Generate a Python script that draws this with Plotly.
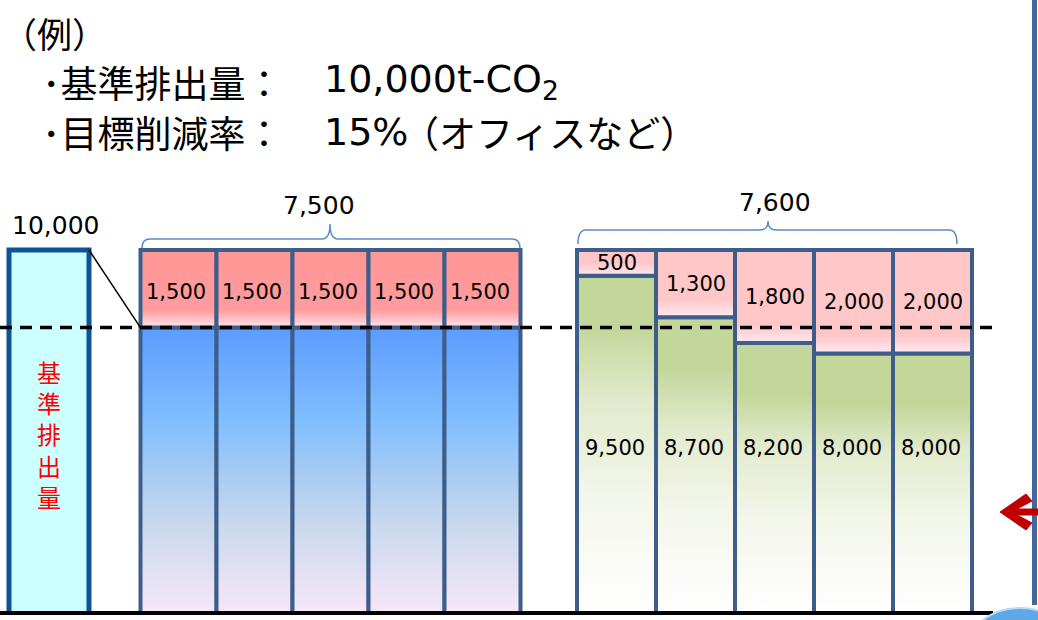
import plotly.graph_objects as go

# ---------------- data ----------------
baseline_emission = 10000          # 基準排出量 t-CO2
target_rate = 0.15                 # 目標削減率
blue_reduction = [1500, 1500, 1500, 1500, 1500]
blue_emission = [8500, 8500, 8500, 8500, 8500]
green_reduction = [500, 1300, 1800, 2000, 2000]
green_emission = [9500, 8700, 8200, 8000, 8000]

target_level = baseline_emission * (1 - target_rate)

# ---------------- layout constants (pixels) ----------------
W, H = 1038, 620
PLOT_H = 614                       # plot area height (bottom margin 6)
TOP_PX, BOT_PX, BOT_VAL = 250, 612, 3000
K = (baseline_emission - BOT_VAL) / (BOT_PX - TOP_PX)   # units per pixel
Y_MAX = baseline_emission + TOP_PX * K
Y_MIN = baseline_emission - (PLOT_H - TOP_PX) * K


def ypx(p):
    return baseline_emission - (p - TOP_PX) * K


def pp(p):
    return (PLOT_H - p) / PLOT_H


BASE_X0, BASE_X1 = 9, 89
BLUE_X0, BLUE_W = 140.5, 76.0
GREEN_X0, GREEN_W = 577.0, 79.0
BORDER = "#3D5E8A"
NUM_FONT = "DejaVu Sans"
JP_FONT = "Noto Sans CJK JP"

fig = go.Figure()


def rect(x0, x1, y0, y1, scale=None, start=None, stop=None, fill=None, line=BORDER, lw=4):
    kw = dict(
        x=[x0, x1, x1, x0, x0], y=[y0, y0, y1, y1, y0],
        mode="lines", fill="toself", line=dict(color=line, width=lw),
        hoverinfo="skip", showlegend=False,
    )
    if scale is not None:
        g = dict(type="vertical", colorscale=scale)
        if start is not None:
            g["start"] = start
        if stop is not None:
            g["stop"] = stop
        kw["fillgradient"] = g
    else:
        kw["fillcolor"] = fill
    fig.add_trace(go.Scatter(**kw))


# baseline bar
rect(BASE_X0, BASE_X1, 0, baseline_emission, fill="#CCFFFF", line="#0E5394", lw=5)

BLUE_SCALE = [[0, "#F6E7F8"], [0.29, "#CCD9EE"], [0.49, "#A6CBF3"], [0.67, "#80BEFF"], [1, "#5C9CFF"]]
RED_SCALE = [[0, "#FFE6EE"], [0.22, "#FF9C9E"], [1, "#FF9696"]]

blue_centers = []
for i, (e, r) in enumerate(zip(blue_emission, blue_reduction)):
    x0 = BLUE_X0 + i * BLUE_W
    blue_centers.append(x0 + BLUE_W / 2)
    rect(x0, x0 + BLUE_W, 0, e, scale=BLUE_SCALE, start=BOT_VAL, stop=e)
for i, (e, r) in enumerate(zip(blue_emission, blue_reduction)):
    x0 = BLUE_X0 + i * BLUE_W
    rect(x0, x0 + BLUE_W, e, e + r, scale=RED_SCALE, start=e, stop=e + r)

green_centers = []
for i, (e, r) in enumerate(zip(green_emission, green_reduction)):
    x0 = GREEN_X0 + i * GREEN_W
    green_centers.append(x0 + GREEN_W / 2)
    s = 1 - 1000 / (e - BOT_VAL)
    gs = [[0, "#FFFFFF"], [0.35, "#F3F6EA"], [0.62, "#E2EBCE"], [s, "#C4D79B"], [1, "#C4D79B"]]
    rect(x0, x0 + GREEN_W, 0, e, scale=gs, start=BOT_VAL, stop=e)
for i, (e, r) in enumerate(zip(green_emission, green_reduction)):
    x0 = GREEN_X0 + i * GREEN_W
    f = min(350 / r, 0.5)
    ps = [[0, "#FFE9F1"], [f, "#FFC7C8"], [1, "#FFC7C7"]]
    rect(x0, x0 + GREEN_W, e, e + r, scale=ps, start=e, stop=e + r)

# ---------------- annotations ----------------
ann = []


def num(x, y, text, size=21, yref="y"):
    ann.append(dict(x=x, y=y, xref="x", yref=yref, text=text, showarrow=False,
                    xanchor="center", yanchor="middle",
                    font=dict(family=NUM_FONT, size=size, color="#000000")))


num((BASE_X0 + BASE_X1) / 2 + 6, pp(225), f"{baseline_emission:,}", size=25, yref="paper")
for c, e, r in zip(blue_centers, blue_emission, blue_reduction):
    num(c - 3, e + r / 2 - 60, f"{r:,}")
for c, e, r in zip(green_centers, green_emission, green_reduction):
    num(c, e + r / 2, f"{r:,}")
    num(c - 2, ypx(448), f"{e:,}")

num(319, pp(205), f"{sum(blue_reduction):,}", size=25, yref="paper")
num(775, pp(202), f"{sum(green_reduction):,}", size=25, yref="paper")

ann.append(dict(x=(BASE_X0 + BASE_X1) / 2, y=pp(434), xref="x", yref="paper",
                text="基<br>準<br>排<br>出<br>量", showarrow=False,
                xanchor="center", yanchor="middle",
                font=dict(family=JP_FONT, size=24, color="#FF0000")))


# title texts
def txt(x, y, text, fam, size, anchor="left", xshift=0):
    ann.append(dict(x=x / W, y=pp(y), xref="paper", yref="paper", text=text, showarrow=False,
                    xanchor=anchor, yanchor="middle", xshift=xshift,
                    font=dict(family=fam, size=size, color="#000000")))


txt(0, 32, "（例）", JP_FONT, 35)
txt(40, 82, "･基準排出量：", JP_FONT, 37)
txt(322, 82, "10,000t-CO<sub>2</sub>", NUM_FONT, 38)
txt(40, 132, "･目標削減率：", JP_FONT, 37)
txt(322, 132, "15%", NUM_FONT, 38)
txt(400, 132, "（オフィスなど）", JP_FONT, 37)

# ---------------- shapes ----------------
shapes = []
# target dashed line
shapes.append(dict(type="line", xref="x", yref="y", x0=0, x1=993, y0=target_level, y1=target_level,
                   line=dict(color="#000000", width=3.5, dash="12px,8px"), layer="above"))
# diagonal connector
shapes.append(dict(type="line", xref="x", yref="y", x0=BASE_X1, y0=baseline_emission,
                   x1=BLUE_X0, y1=target_level, line=dict(color="#000000", width=1.5), layer="above"))
# baseline axis line
shapes.append(dict(type="line", xref="x", yref="paper", x0=0, x1=993, y0=pp(613), y1=pp(613),
                   line=dict(color="#000000", width=4), layer="above"))


def brace(x0, x1, cx, ye, yh, yp, r=8):
    d = (f"M {x0},{pp(ye)} Q {x0},{pp(yh)} {x0 + r},{pp(yh)} L {cx - r},{pp(yh)} "
         f"Q {cx},{pp(yh)} {cx},{pp(yp)} Q {cx},{pp(yh)} {cx + r},{pp(yh)} "
         f"L {x1 - r},{pp(yh)} Q {x1},{pp(yh)} {x1},{pp(ye)}")
    return dict(type="path", xref="x", yref="paper", path=d,
                line=dict(color="#5B8BC9", width=1.5))


shapes.append(brace(142, 520, 330, 248, 239, 224))
shapes.append(brace(578, 957, 768, 244, 230, 221))

# right frame line
shapes.append(dict(type="line", xref="x", yref="paper", x0=1034.5, x1=1034.5, y0=pp(0), y1=pp(605),
                   line=dict(color="#41689A", width=5), layer="above"))
# red arrow (filled chevron with stub)
arrow = [(1000, 512), (1026, 494), (1032, 501), (1017, 509), (1040, 509),
         (1040, 515), (1017, 515), (1032, 523), (1026, 530)]
apath = "M " + " L ".join(f"{x},{pp(y)}" for x, y in arrow) + " Z"
shapes.append(dict(type="path", xref="x", yref="paper", path=apath,
                   fillcolor="#C00000", line=dict(color="#C00000", width=1), layer="above"))
# blue ellipse bottom right
shapes.append(dict(type="circle", xref="x", yref="paper", x0=965, x1=1075, y0=pp(608), y1=pp(700),
                   fillcolor="#5FA8E6", line=dict(color="#B8DAF5", width=2), layer="above"))

fig.update_layout(
    width=W, height=H,
    margin=dict(l=0, r=0, t=0, b=H - PLOT_H),
    paper_bgcolor="#FFFFFF", plot_bgcolor="#FFFFFF",
    xaxis=dict(range=[0, W], visible=False, fixedrange=True),
    yaxis=dict(range=[Y_MIN, Y_MAX], visible=False, fixedrange=True),
    annotations=ann, shapes=shapes, showlegend=False,
)

fig.write_html("out.html")
